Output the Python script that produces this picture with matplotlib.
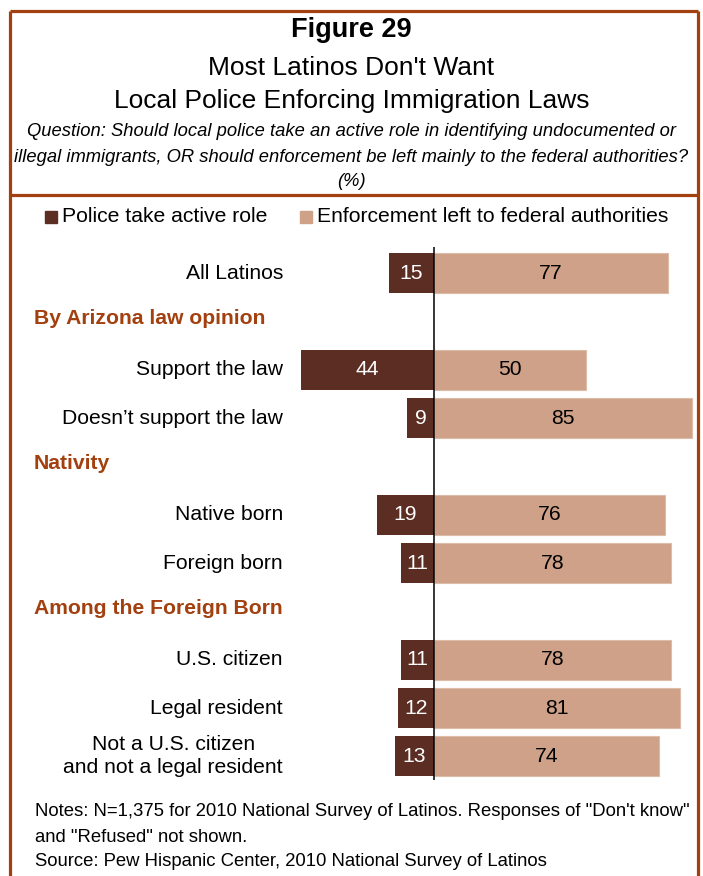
import matplotlib
matplotlib.use("Agg")
import matplotlib.pyplot as plt
from matplotlib.patches import Rectangle
from matplotlib.lines import Line2D
from matplotlib.transforms import blended_transform_factory

plt.rcParams['font.family'] = ['Liberation Sans', 'DejaVu Sans']

# ---- data ----
rows = ["All Latinos", "By Arizona law opinion", "Support the law",
        "Doesn\u2019t support the law", "Nativity", "Native born", "Foreign born",
        "Among the Foreign Born", "U.S. citizen", "Legal resident",
        "Not a U.S. citizen\nand not a legal resident"]
is_header = [False, True, False, False, True, False, False, True, False, False, False]
police_active = [15, None, 44, 9, None, 19, 11, None, 11, 12, 13]
federal_left = [77, None, 50, 85, None, 76, 78, None, 78, 81, 74]
legend_labels = ["Police take active role", "Enforcement left to federal authorities"]

DARK = "#5C2E23"
LIGHT = "#CEA188"
RUST = "#A3400F"

W, H = 703, 876
fig = plt.figure(figsize=(W / 100, H / 100), dpi=100)


def fx(x):
    return x / W


def fy(y):
    return 1 - y / H


# ---- frame ----
for (x0, y0, x1, y1) in [(10, 11, 698, 11), (10, 11, 10, 876), (698, 11, 698, 876),
                         (10, 195, 698, 195)]:
    fig.add_artist(Line2D([fx(x0), fx(x1)], [fy(y0), fy(y1)], color=RUST, lw=2.3,
                          transform=fig.transFigure, solid_capstyle='butt'))

# ---- titles ----
fig.text(0.5, fy(30), "Figure 29", ha='center', va='center', fontsize=19.5,
         fontweight='bold')
fig.text(0.5, fy(68), "Most Latinos Don't Want", ha='center', va='center', fontsize=19)
fig.text(0.5, fy(101), "Local Police Enforcing Immigration Laws", ha='center',
         va='center', fontsize=19)
q_lines = ["Question: Should local police take an active role in identifying undocumented or",
           "illegal immigrants, OR should enforcement be left mainly to the federal authorities?",
           "(%)"]
for yy, t in zip([131, 157, 182], q_lines):
    fig.text(0.5, fy(yy), t, ha='center', va='center', fontsize=13.2, style='italic')

# ---- legend ----
for (sx, col, lab) in [(45, DARK, legend_labels[0]), (300, LIGHT, legend_labels[1])]:
    fig.add_artist(Rectangle((fx(sx), fy(223)), 12 / W, 12 / H, color=col,
                             transform=fig.transFigure))
    fig.text(fx(sx + 17), fy(217), lab, ha='left', va='center', fontsize=15.2)

# ---- bars ----
ax_left, ax_right, ax_top, ax_bot = 290, 698, 247, 780
ax = fig.add_axes([fx(ax_left), fy(ax_bot), (ax_right - ax_left) / W, (ax_bot - ax_top) / H])
zero_px, px_per_unit = 434.3, 3.03
ax.set_xlim(-(zero_px - ax_left) / px_per_unit, (ax_right - zero_px) / px_per_unit)
row_px = 48.3
ax.set_ylim((ax_bot - 273.3) / row_px, (ax_top - 273.3) / row_px)
ax.axis('off')

bh = 40 / row_px
for i, (p, f) in enumerate(zip(police_active, federal_left)):
    if p is None:
        continue
    ax.barh(i, -p, height=bh, color=DARK, edgecolor='none')
    ax.barh(i, f, height=bh, color=LIGHT, edgecolor='#DDBCA8', linewidth=0.8)
    ax.text(-p / 2, i, str(p), ha='center', va='center', color='white', fontsize=15.2)
    ax.text(f / 2, i, str(f), ha='center', va='center', color='black', fontsize=15.2)

ax.axvline(0, color='black', lw=1.1)

# ---- row labels ----
tr = blended_transform_factory(fig.transFigure, ax.transData)
for i, (lab, hdr) in enumerate(zip(rows, is_header)):
    if hdr:
        fig.text(fx(34), i - 0.06, lab, ha='left', va='center', fontsize=15.2,
                 fontweight='bold', color=RUST, transform=tr)
    else:
        fig.text(fx(283), i, lab, ha='right', va='center', fontsize=15.2,
                 linespacing=1.25, transform=tr, multialignment='center')

# ---- notes ----
notes = ["Notes: N=1,375 for 2010 National Survey of Latinos. Responses of \"Don't know\"",
         "and \"Refused\" not shown.",
         "Source: Pew Hispanic Center, 2010 National Survey of Latinos"]
for yy, t in zip([812, 837, 861], notes):
    fig.text(fx(35), fy(yy), t, ha='left', va='center', fontsize=13.3)

fig.savefig("out.png", dpi=100)
